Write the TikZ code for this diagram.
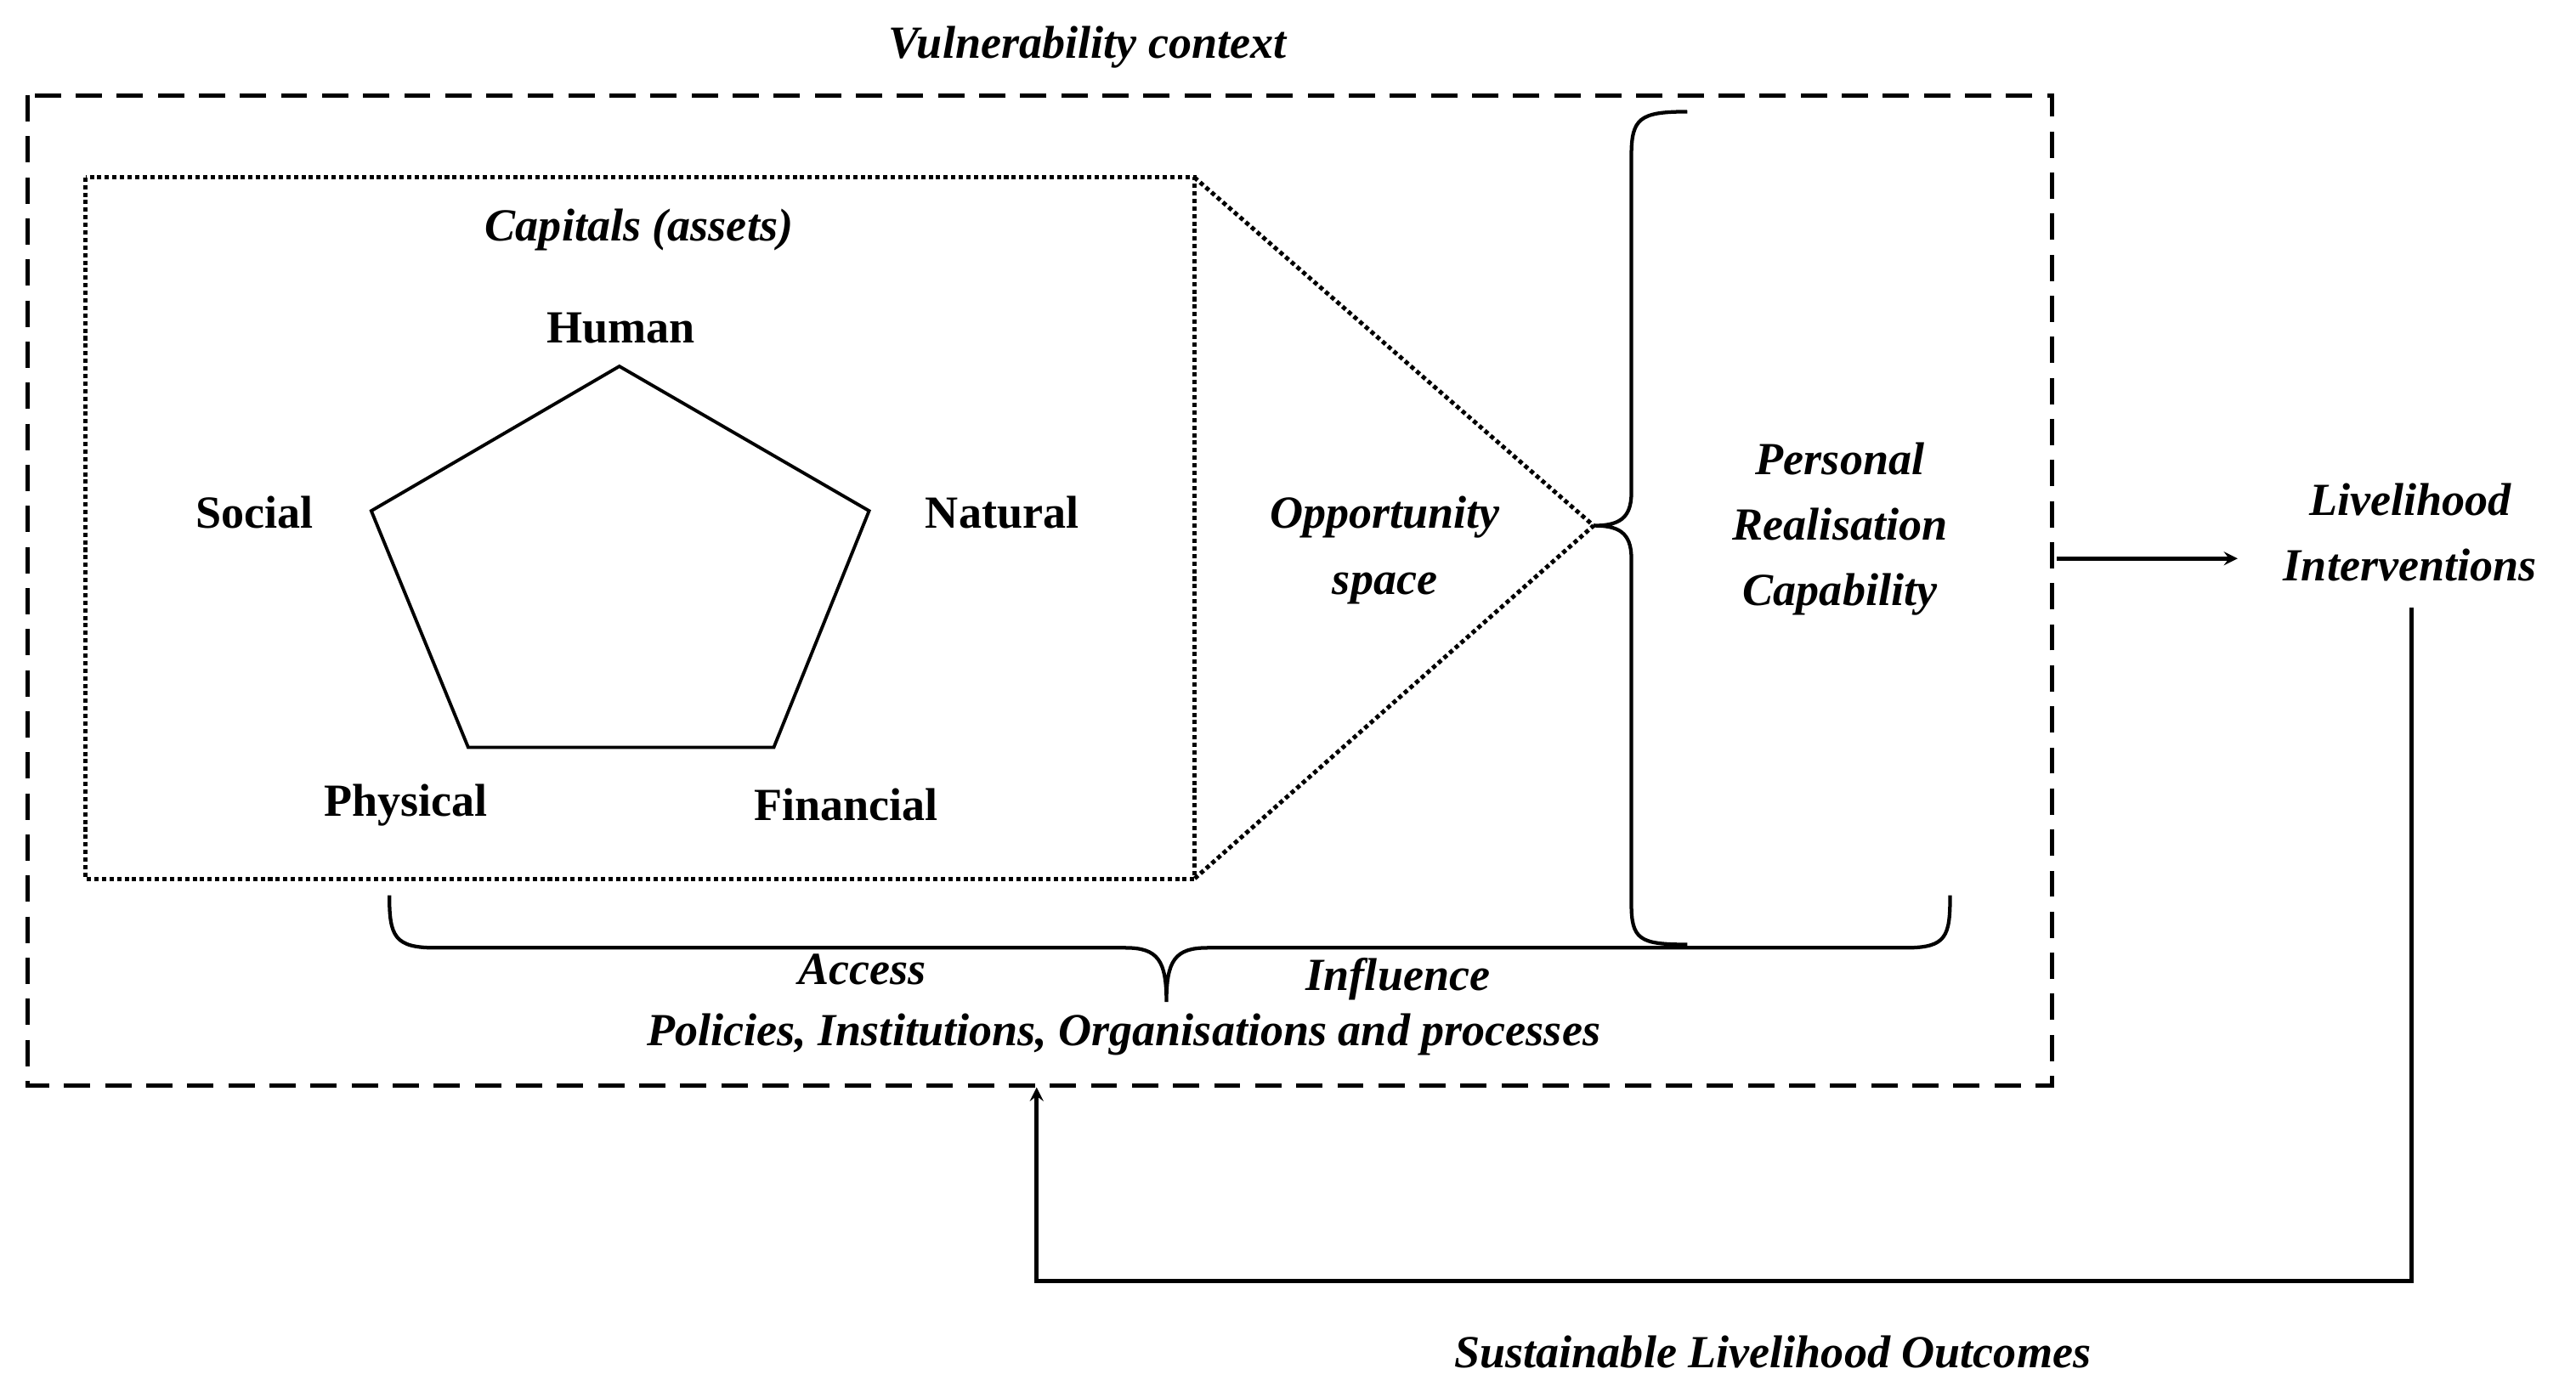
\documentclass[tikz,border=0pt]{standalone}
\usepackage{fontspec}
\setmainfont{Liberation Serif}
\begin{document}
\begin{tikzpicture}[x=1pt,y=-1pt,
  lab/.style={font=\fontsize{28}{34}\selectfont\bfseries, inner sep=0pt},
  ilab/.style={font=\fontsize{28}{40}\selectfont\bfseries\itshape, inner sep=0pt, align=center},
  ln/.style={line width=2.6pt}]
\useasboundingbox (0,0) rectangle (1568,850);
\draw[ln, dash pattern=on 16pt off 9pt] (17,58) rectangle (1249,661);
\draw[ln, dotted] (52,108) rectangle (727,535);
\coordinate (tip) at (970,320);
\coordinate (dtop) at (727,108);
\coordinate (dbot) at (727,535);
\draw[ln, dotted] (dtop) -- (tip) -- (dbot);
% vertical brace
\draw[line width=2.2pt] (1027,68) .. controls (998,68) and (993,72) .. (993,95) -- (993,300) .. controls (993,316) and (985,320) .. (tip)
  (tip) .. controls (985,320) and (993,324) .. (993,340) -- (993,550) .. controls (993,572) and (998,575) .. (1027,575);
% horizontal brace
\draw[line width=2.2pt] (237,545) .. controls (237,570) and (240,577) .. (265,577) -- (685,577) .. controls (705,577) and (710,585) .. (710,610)
  (710,610) .. controls (710,585) and (715,577) .. (735,577) -- (1160,577) .. controls (1185,577) and (1187,570) .. (1187,545);
% pentagon
\draw[line width=2pt] (377,223) -- (529,311) -- (471,455) -- (285,455) -- (226,311) -- cycle;
\node[lab] (hum) at (378,200) {Human};
\node[lab] (soc) at (155,312) {Social};
\node[lab] (nat) at (610,312) {Natural};
\node[lab] (phy) at (247,490) {Physical};
\node[lab] (fin) at (515,490) {Financial};
\node[ilab] (cap) at (389,140) {Capitals (assets)};
\node[ilab] (opp) at (843,335) {Opportunity\\space};
\node[ilab] (prc) at (1120,322) {Personal\\Realisation\\Capability};
\node[ilab] (li) at (1467,324) {Livelihood\\Interventions};
\node[ilab] (vc) at (662,29) {Vulnerability context};
\node[ilab] (acc) at (525,590) {Access};
\node[ilab] (inf) at (851,596) {Influence};
\node[ilab] (pol) at (684,630) {Policies, Institutions, Organisations and processes};
\node[ilab] (slo) at (1079,823) {Sustainable Livelihood Outcomes};
\coordinate (a1) at (1252,340);
\coordinate (a2) at (1362,340);
\draw[ln,-stealth] (a1) -- (a2);
\coordinate (f1) at (1468,370);
\coordinate (f2) at (1468,780);
\coordinate (f3) at (631,780);
\coordinate (f4) at (631,662);
\draw[ln,-stealth] (f1) -- (f2) -- (f3) -- (f4);
\end{tikzpicture}
\end{document}
